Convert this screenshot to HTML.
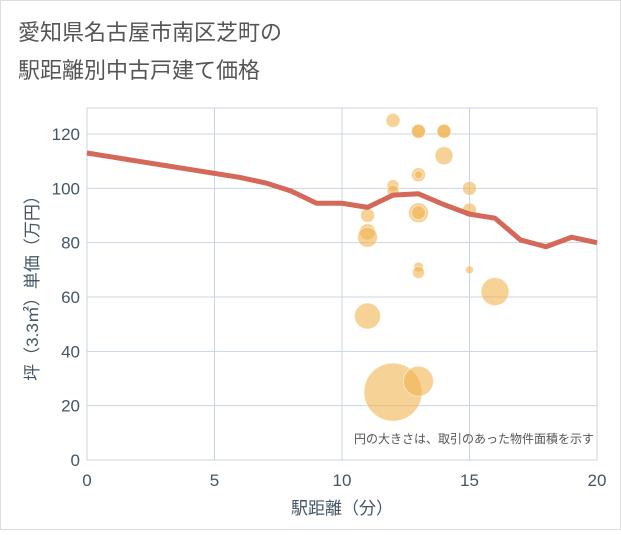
<!DOCTYPE html>
<html><head><meta charset="utf-8"><style>
body{margin:0;background:#fff;font-family:"Liberation Sans","Noto Sans CJK JP",sans-serif;}
svg text{font-family:"Liberation Sans","Noto Sans CJK JP",sans-serif;}
</style></head><body>
<svg width="621" height="530">
<rect x="0.5" y="0.5" width="620" height="529" fill="#fff" stroke="#ddd"/>
<text x="18" y="40" font-size="22" fill="#555">愛知県名古屋市南区芝町の</text>
<text x="18" y="78" font-size="22" fill="#555">駅距離別中古戸建て価格</text>
<g id="grid"></g>
<g id="bubbles"></g>
<g id="line"></g>
<g id="ticks"></g>
<text x="342" y="514" font-size="17" fill="#456" text-anchor="middle">駅距離（分）</text>
<text transform="translate(38,284) rotate(-90)" font-size="17" fill="#456" text-anchor="middle">坪（3.3㎡）単価（万円）</text>
<text x="594" y="443" font-size="12" fill="#555" text-anchor="end">円の大きさは、取引のあった物件面積を示す</text>
</svg>
<script>
const xTicks=[0,5,10,15,20];
const yTicks=[0,20,40,60,80,100,120];
const lineX=[0,1,2,3,4,5,6,7,8,9,10,11,12,13,14,15,16,17,18,19,20];
const lineY=[113,111.5,110,108.5,107,105.5,104,102,99,94.5,94.5,93,97.5,98,94,90.5,89,81,78.5,82,80];
const bubX=[12,13,13,14,14,14,13,13,12,12,15,11,13,13,15,11,11,13,13,15,16,11,12,13];
const bubY=[125,121,121,121,121,112,105,105,101,99,100,90,91,91,92,84,82,71,69,70,62,53,25,29];
const bubR=[7,7,7,7,7,9,7,4,6,6,7,7,10,7,7,8,10,5,6,4,14,13,29,15];
const NS="http://www.w3.org/2000/svg";
const X0=87,X1=597,Y0=460,Y1=108;
const sx=v=>X0+(X1-X0)*v/20;
const sy=v=>Y0-(Y0-134)*v/120;
function mk(t,a,p){const e=document.createElementNS(NS,t);for(const k in a)e.setAttribute(k,a[k]);p.appendChild(e);return e;}
const grid=document.getElementById('grid'),ticks=document.getElementById('ticks');
const br=mk('rect',{x:X0,y:Y1,width:X1-X0,height:Y0-Y1,fill:'none',stroke:'#ccd6e0'},grid);


xTicks.forEach(v=>{const l=mk('line',{x1:sx(v),x2:sx(v),y1:Y1,y2:Y0,stroke:'#c8d4e0'},grid);


const t=mk('text',{x:sx(v),y:486,'font-size':17,fill:'#456','text-anchor':'middle'},ticks);t.textContent=v;

});
yTicks.forEach(v=>{const l=mk('line',{x1:X0,x2:X1,y1:sy(v),y2:sy(v),stroke:'#c8d4e0'},grid);


const t=mk('text',{x:80,y:sy(v)+6,'font-size':17,fill:'#456','text-anchor':'end'},ticks);t.textContent=v;

});
const bg=document.getElementById('bubbles');
bubX.forEach((x,i)=>{const c=mk('circle',{cx:sx(x),cy:sy(bubY[i]),r:bubR[i],fill:'rgba(240,180,80,0.6)',stroke:'rgba(255,255,255,0.5)'},bg);

});
const lg=document.getElementById('line');
const p=mk('polyline',{points:lineX.map((x,i)=>sx(x)+','+sy(lineY[i])).join(' '),fill:'none',stroke:'#d4695a',"stroke-width":5,"stroke-linejoin":'round'},lg);


</script>
</body></html>
